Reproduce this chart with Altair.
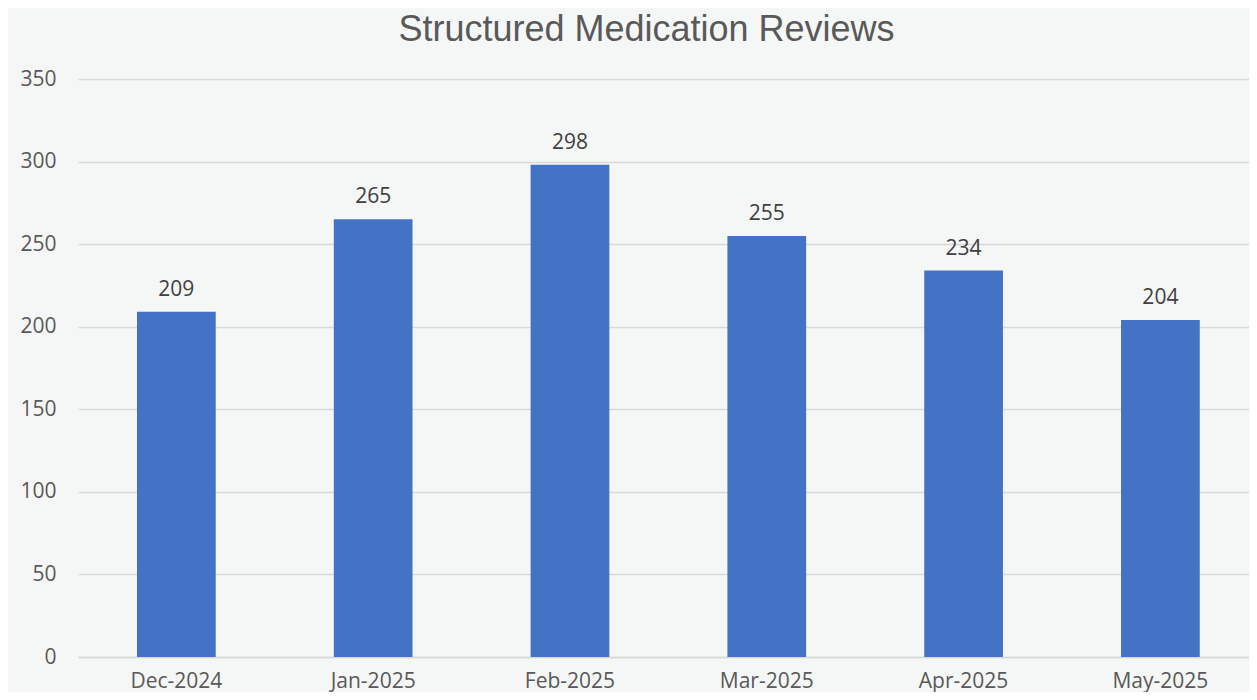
import altair as alt
import pandas as pd

months = ["Dec-2024", "Jan-2025", "Feb-2025", "Mar-2025", "Apr-2025", "May-2025"]
reviews = [209, 265, 298, 255, 234, 204]
y_ticks = [0, 50, 100, 150, 200, 250, 300, 350]

df = pd.DataFrame({"month": months, "reviews": reviews})

FONT = "Open Sans"

base = alt.Chart(df).encode(
    x=alt.X(
        "month:N",
        sort=months,
        title=None,
        scale=alt.Scale(paddingInner=0.6, paddingOuter=0.275, align=0.545, round=False),
        axis=alt.Axis(
            labelAngle=0,
            labelFont=FONT,
            labelFontSize=21,
            labelColor="#595959",
            ticks=False,
            domain=True,
            domainColor="#d9d9d9",
            domainWidth=1.5,
            labelPadding=13,
        ),
    ),
    y=alt.Y(
        "reviews:Q",
        title=None,
        scale=alt.Scale(domain=[0, 350], nice=False),
        axis=alt.Axis(
            values=y_ticks,
            labelFont=FONT,
            labelFontSize=21,
            labelColor="#595959",
            ticks=False,
            domain=False,
            grid=True,
            gridColor="#d9d9d9",
            gridWidth=1.5,
            labelPadding=22,
        ),
    ),
)

bars = base.mark_bar(color="#4472C4")
labels = base.mark_text(
    baseline="bottom", dy=-12, font=FONT, fontSize=21, color="#404040"
).encode(text="reviews:Q")

chart = (
    (bars + labels)
    .properties(
        width=1171,
        height=578,
        background="#f5f7f6",
        padding={"left": 70, "top": 71, "right": 0, "bottom": 35},
        autosize=alt.AutoSizeParams(type="none"),
        title=alt.TitleParams(
            "Structured Medication Reviews",
            font="Liberation Sans",
            fontSize=36,
            fontWeight="normal",
            color="#595959",
            anchor="middle",
            frame="group",
            dx=-17,
            offset=19,
        ),
    )
    .configure_view(stroke=None)
)

chart.save("out.html", embed_options={"renderer": "svg", "actions": False})
